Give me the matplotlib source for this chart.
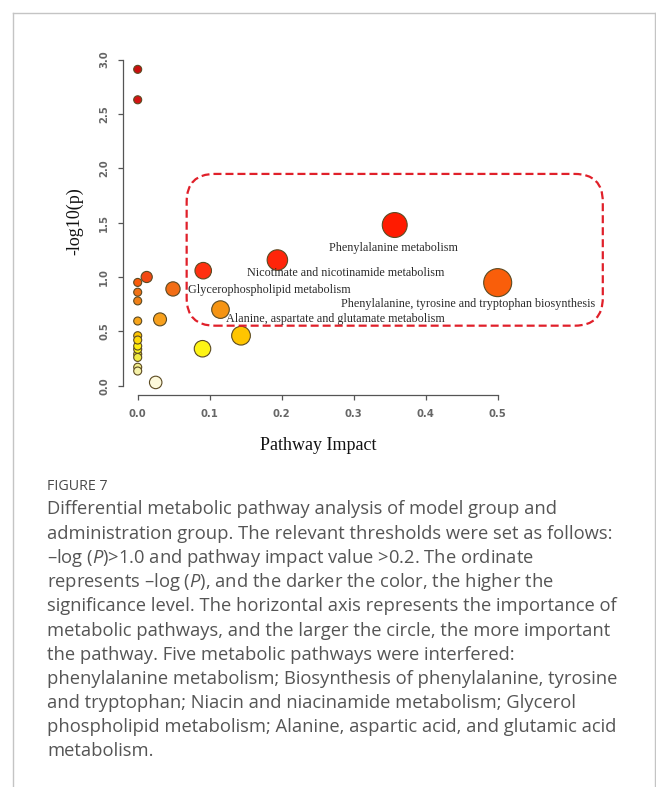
import numpy as np
import matplotlib
matplotlib.use("Agg")
import matplotlib.pyplot as plt
from matplotlib.colors import LinearSegmentedColormap, Normalize
from matplotlib.patches import FancyBboxPatch
from matplotlib.lines import Line2D
import matplotlib.transforms as mtransforms

# ---- pathway data ------------------------------------------------------
impact = [0.0, 0.0, 0.0, 0.0, 0.0, 0.0, 0.0, 0.0, 0.0, 0.0, 0.0, 0.0, 0.0,
          0.0, 0.0125, 0.025, 0.031, 0.049, 0.090, 0.091, 0.115, 0.1435,
          0.194, 0.357, 0.500]
neglogp = [2.91, 2.63, 0.95, 0.86, 0.78, 0.595, 0.46, 0.42, 0.365, 0.335,
           0.29, 0.26, 0.17, 0.135, 1.00, 0.03, 0.61, 0.89, 0.34, 1.058,
           0.70, 0.46, 1.156, 1.478, 0.948]

# highlighted pathways (index into the arrays above) and their names
label_idx = [23, 22, 17, 24, 20]
label_names = ["Phenylalanine metabolism",
               "Nicotinate and nicotinamide metabolism",
               "Glycerophospholipid metabolism",
               "Phenylalanine, tyrosine and tryptophan biosynthesis",
               "Alanine, aspartate and glutamate metabolism"]
label_offsets = [(-0.7, -16.3), (49.5, -9.6), (69.3, -0.9), (-21.2, -15.3),
                 (82.6, -6.5)]

# region of interest (impact, -log10 p)
roi_x = [0.068, 0.646]
roi_y = [0.552, 1.948]

x_ticks = [0.0, 0.1, 0.2, 0.3, 0.4, 0.5]
y_ticks = [0.0, 0.5, 1.0, 1.5, 2.0, 2.5, 3.0]

caption_title = "FIGURE 7"
caption_lines = [
    "Differential metabolic pathway analysis of model group and",
    "administration group. The relevant thresholds were set as follows:",
    "\u2013log ($\\mathit{P}$)>1.0 and pathway impact value >0.2. The ordinate",
    "represents \u2013log ($\\mathit{P}$), and the darker the color, the higher the",
    "significance level. The horizontal axis represents the importance of",
    "metabolic pathways, and the larger the circle, the more important",
    "the pathway. Five metabolic pathways were interfered:",
    "phenylalanine metabolism; Biosynthesis of phenylalanine, tyrosine",
    "and tryptophan; Niacin and niacinamide metabolism; Glycerol",
    "phospholipid metabolism; Alanine, aspartic acid, and glutamic acid",
    "metabolism.",
]

# ---- styling -------------------------------------------------------------
plt.rcParams["mathtext.fontset"] = "custom"
plt.rcParams["mathtext.rm"] = "Open Sans"
plt.rcParams["mathtext.it"] = "Open Sans:italic"

W, H = 656, 787
fig = plt.figure(figsize=(W / 100, H / 100), dpi=100)
fig.patch.set_facecolor("white")


def px(x, y):
    """figure fraction from pixel position measured from the top-left"""
    return x / W, 1 - y / H


# axes placed so that the R-style detached axis lines sit at its edges
ax_l, ax_r, ax_t, ax_b = 123.3, 610.0, 50.0, 395.0
ax = fig.add_axes([ax_l / W, 1 - ax_b / H, (ax_r - ax_l) / W, (ax_b - ax_t) / H])
ax.set_xlim(-0.02, 0.656)
ax.set_ylim(-0.0856, 3.088)
ax.set_facecolor("none")

for s in ("top", "right"):
    ax.spines[s].set_visible(False)
for s in ("left", "bottom"):
    ax.spines[s].set_color("#555555")
    ax.spines[s].set_linewidth(0.9)
ax.spines["bottom"].set_bounds(x_ticks[0], x_ticks[-1])
ax.spines["left"].set_bounds(y_ticks[0], y_ticks[-1])

ax.set_xticks(x_ticks)
ax.set_xticklabels([f"{v:.1f}" for v in x_ticks])
ax.set_yticks(y_ticks)
ax.set_yticklabels([f"{v:.1f}" for v in y_ticks], rotation=90, va="center")
ax.tick_params(length=3.6, width=0.9, color="#555555", pad=6.5,
               labelsize=7.2, labelcolor="#666666")
for lab in ax.get_xticklabels() + ax.get_yticklabels():
    lab.set_fontfamily("DejaVu Sans")
    lab.set_fontweight("bold")

# heat colour scale: pale -> yellow -> orange -> red with increasing -log10 p
stops = [(0.00, "#fffbe6"), (0.12, "#f6f2b0"), (0.25, "#efea48"),
         (0.35, "#fff510"), (0.46, "#ffc400"), (0.60, "#f7a21e"),
         (0.70, "#f59312"), (0.80, "#f07a18"), (0.90, "#f26a14"),
         (0.95, "#fa5c08"), (1.00, "#f24812"), (1.06, "#ff3010"),
         (1.16, "#ff2408"), (1.50, "#ff1a00"), (2.60, "#d41414"),
         (3.00, "#c80c0c")]
cmap = LinearSegmentedColormap.from_list(
    "heat", [(v / 3.0, c) for v, c in stops])
norm = Normalize(0, 3.0)

imp = np.array(impact)
nlp = np.array(neglogp)
diam_px = 8 + 28.3 * np.sqrt(imp)          # circle diameter grows with impact
sizes = (diam_px * 0.72) ** 2
order = np.argsort(-sizes)
ax.scatter(imp[order], nlp[order], s=sizes[order], c=nlp[order], cmap=cmap,
           norm=norm, edgecolors="#5b4a22", linewidths=0.8, zorder=3,
           clip_on=False)

for i, name, off in zip(label_idx, label_names, label_offsets):
    ax.annotate(name, xy=(impact[i], neglogp[i]), xytext=off,
                textcoords="offset points", ha="center", va="center",
                fontsize=8.7, family="Liberation Serif", color="#2a2a2a",
                zorder=4)

# rounded dashed box around the pathways of interest
(bx0, by0), (bx1, by1) = ax.transData.transform(
    [(roi_x[0], roi_y[0]), (roi_x[1], roi_y[1])])
box = FancyBboxPatch((bx0, by0), bx1 - bx0, by1 - by0,
                     boxstyle="round,pad=0,rounding_size=28",
                     transform=mtransforms.IdentityTransform(),
                     fill=False, edgecolor="#e0202a", linewidth=1.6,
                     linestyle=(0, (3.6, 1.8)), zorder=2)
fig.add_artist(box)

# axis titles
fig.text(*px(75, 221), "-log10(p)", rotation=90, ha="center", va="center",
         fontsize=13, family="Liberation Serif", color="#111111")
fig.text(*px(318, 445), "Pathway Impact", ha="center", va="center",
         fontsize=13, family="Liberation Serif", color="#111111")

# caption
fig.text(*px(47, 487), caption_title, ha="left", va="center", fontsize=10.3,
         family="Open Sans", color="#4a4a4a")
for k, line in enumerate(caption_lines):
    fig.text(*px(47, 509.5 + 24.2 * k), line, ha="left", va="center",
             fontsize=13.2, family="Open Sans", color="#555555")

# page frame
frame_kw = dict(color="#c4c4c4", linewidth=1.0, transform=fig.transFigure)
fl, ft, fr = 13.4, 12.5, 654.5
fig.add_artist(Line2D([fl / W, fl / W], [0, 1 - ft / H], **frame_kw))
fig.add_artist(Line2D([fl / W, fr / W], [1 - ft / H, 1 - ft / H], **frame_kw))
fig.add_artist(Line2D([fr / W, fr / W], [0, 1 - ft / H], **frame_kw))

fig.savefig("out.png", dpi=100)
